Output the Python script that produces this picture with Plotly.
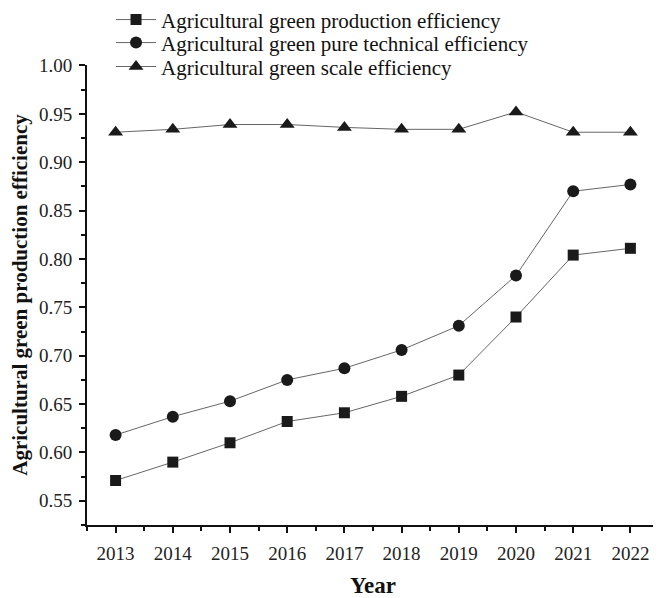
import plotly.graph_objects as go

years = list(range(2013, 2023))
production_eff = [0.571, 0.590, 0.610, 0.632, 0.641, 0.658, 0.680, 0.740, 0.804, 0.811]
pure_tech_eff = [0.618, 0.637, 0.653, 0.675, 0.687, 0.706, 0.731, 0.783, 0.870, 0.877]
scale_eff = [0.931, 0.934, 0.939, 0.939, 0.936, 0.934, 0.934, 0.952, 0.931, 0.931]

series = [
    ("Agricultural green production efficiency", production_eff, "square", 11),
    ("Agricultural green pure technical efficiency", pure_tech_eff, "circle", 12),
    ("Agricultural green scale efficiency", scale_eff, "triangle-up", 13),
]

FONT = "Liberation Serif, Times New Roman, serif"

# the page body has an 8px margin, so the plot box is shifted up/left by 8px
fig = go.Figure()
legends = ["legend", "legend2", "legend3"]
for (name, vals, sym, size), lg in zip(series, legends):
    fig.add_trace(go.Scatter(
        x=years, y=vals, name=name, mode="lines+markers", legend=lg,
        line=dict(color="#666666", width=1),
        marker=dict(symbol=sym, size=size, color="#1a1a1a", line=dict(width=0)),
    ))

axis_common = dict(
    showline=True, linecolor="#111111", linewidth=2,
    ticks="outside", ticklen=6, tickwidth=2, tickcolor="#111111",
    showgrid=False, zeroline=False, mirror=False,
    tickfont=dict(family=FONT, size=19, color="#222222"),
)

fig.update_xaxes(
    range=[2012.5, 2022.5], tickmode="linear", tick0=2013, dtick=1,
    minor=dict(dtick=0.5, tick0=2012.5, ticks="outside", ticklen=4, tickwidth=2, tickcolor="#111111"),
    title=dict(text="<b>Year</b>", font=dict(family=FONT, size=23, color="#111111"), standoff=14),
    ticklabelstandoff=4,
    **axis_common,
)
fig.update_yaxes(
    range=[0.525, 1.0005], tickmode="linear", tick0=0.55, dtick=0.05, tickformat=".2f",
    minor=dict(dtick=0.025, ticks="outside", ticklen=4, tickwidth=2, tickcolor="#111111"),
    title=dict(text="<b>Agricultural green production efficiency</b>",
               font=dict(family=FONT, size=21, color="#111111"), standoff=7),
    ticklabelstandoff=3,
    **axis_common,
)

leg_style = dict(
    x=0.042, xanchor="left", yanchor="middle",
    font=dict(family=FONT, size=21, color="#111111"),
    bgcolor="rgba(0,0,0,0)", itemwidth=40,
)
fig.update_layout(
    width=661, height=598,
    margin=dict(l=79, r=10, t=57, b=81, autoexpand=False),
    paper_bgcolor="white", plot_bgcolor="white",
    font=dict(family=FONT, color="#111111"),
    showlegend=True,
    legend=dict(y=1.098, **leg_style),
    legend2=dict(y=1.048, **leg_style),
    legend3=dict(y=0.996, **leg_style),
)

fig.write_html("out.html")
